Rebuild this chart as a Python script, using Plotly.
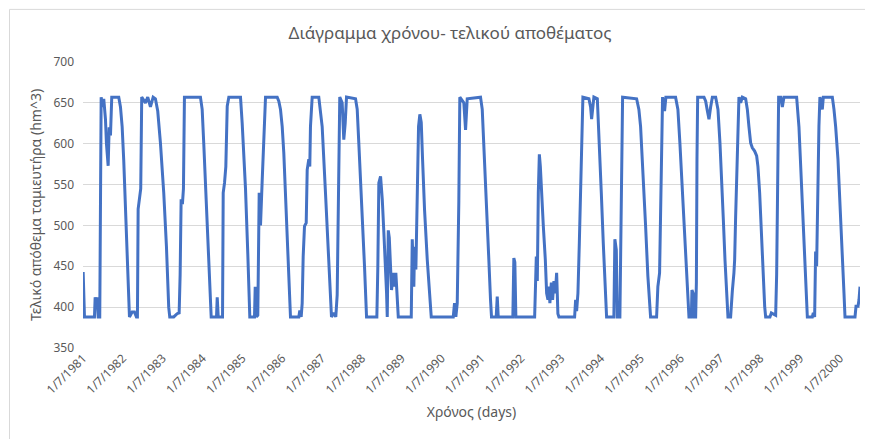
import pandas as pd
import plotly.graph_objects as go

# Time as decimal year and reservoir storage (hm^3)
t_years = [
    1981.500, 1981.533, 1981.784, 1981.801, 1981.834, 1981.852, 1981.877, 1981.917, 1981.952, 1981.992,
    1982.017, 1982.060, 1982.085, 1982.128, 1982.153, 1982.186, 1982.218, 1982.394, 1982.437, 1982.479,
    1982.519, 1982.562, 1982.605, 1982.645, 1982.663, 1982.730, 1982.788, 1982.838, 1982.863, 1982.881,
    1982.914, 1982.946, 1982.971, 1983.064, 1983.122, 1983.190, 1983.258, 1983.315, 1983.373, 1983.441,
    1983.524, 1983.592, 1983.649, 1983.675, 1983.775, 1983.860, 1983.911, 1983.936, 1983.961, 1983.993,
    1984.019, 1984.044, 1984.445, 1984.488, 1984.528, 1984.614, 1984.679, 1984.714, 1984.847, 1984.865,
    1984.890, 1984.998, 1985.015, 1985.048, 1985.081, 1985.116, 1985.156, 1985.450, 1985.492, 1985.575,
    1985.633, 1985.683, 1985.801, 1985.819, 1985.852, 1985.884, 1985.919, 1985.952, 1985.995, 1986.035,
    1986.078, 1986.371, 1986.412, 1986.454, 1986.497, 1986.537, 1986.580, 1986.622, 1986.663, 1986.705,
    1986.914, 1986.939, 1986.974, 1986.999, 1987.024, 1987.057, 1987.100, 1987.125, 1987.165, 1987.190,
    1987.207, 1987.250, 1987.416, 1987.501, 1987.584, 1987.667, 1987.710, 1987.735, 1987.793, 1987.843,
    1987.878, 1987.903, 1987.928, 1987.943, 1988.003, 1988.044, 1988.079, 1988.112, 1988.338, 1988.380,
    1988.420, 1988.506, 1988.563, 1988.614, 1988.872, 1988.897, 1988.922, 1988.965, 1989.008, 1989.048,
    1989.091, 1989.116, 1989.133, 1989.159, 1989.184, 1989.216, 1989.241, 1989.284, 1989.317, 1989.349,
    1989.384, 1989.410, 1989.736, 1989.761, 1989.801, 1989.819, 1989.852, 1989.887, 1989.919, 1989.952,
    1989.987, 1990.020, 1990.070, 1990.138, 1990.203, 1990.238, 1990.791, 1990.823, 1990.856, 1990.891,
    1990.931, 1990.956, 1991.057, 1991.100, 1991.142, 1991.476, 1991.519, 1991.559, 1991.602, 1991.644,
    1991.685, 1991.727, 1991.752, 1991.870, 1991.896, 1991.921, 1992.287, 1992.312, 1992.337, 1992.363,
    1992.833, 1992.875, 1992.900, 1992.925, 1992.951, 1992.976, 1993.001, 1993.051, 1993.101, 1993.134,
    1993.167, 1993.191, 1993.216, 1993.252, 1993.284, 1993.317, 1993.352, 1993.385, 1993.417, 1993.443,
    1993.837, 1993.862, 1993.887, 1993.920, 1993.955, 1993.987, 1994.020, 1994.045, 1994.196, 1994.238,
    1994.264, 1994.296, 1994.321, 1994.407, 1994.447, 1994.507, 1994.557, 1994.615, 1994.640, 1994.823,
    1994.848, 1994.884, 1994.909, 1994.974, 1995.017, 1995.042, 1995.394, 1995.451, 1995.494, 1995.562,
    1995.620, 1995.677, 1995.727, 1995.745, 1995.896, 1995.928, 1995.971, 1995.996, 1996.021, 1996.046,
    1996.096, 1996.129, 1996.372, 1996.430, 1996.480, 1996.523, 1996.566, 1996.606, 1996.649, 1996.682,
    1996.707, 1996.767, 1996.782, 1996.825, 1996.842, 1996.875, 1996.893, 1996.908, 1996.925, 1997.084,
    1997.126, 1997.169, 1997.209, 1997.251, 1997.294, 1997.377, 1997.435, 1997.485, 1997.528, 1997.570,
    1997.611, 1997.653, 1997.686, 1997.753, 1997.771, 1997.796, 1997.836, 1997.854, 1997.879, 1997.922,
    1997.962, 1998.005, 1998.047, 1998.130, 1998.173, 1998.213, 1998.256, 1998.298, 1998.356, 1998.407,
    1998.439, 1998.482, 1998.525, 1998.565, 1998.608, 1998.633, 1998.741, 1998.776, 1998.884, 1998.909,
    1998.934, 1998.959, 1999.010, 1999.052, 1999.092, 1999.411, 1999.469, 1999.511, 1999.562, 1999.612,
    1999.655, 1999.680, 1999.805, 1999.830, 1999.863, 1999.888, 1999.913, 1999.938, 1999.971, 1999.996,
    2000.031, 2000.056, 2000.081, 2000.307, 2000.348, 2000.390, 2000.448, 2000.498, 2000.548, 2000.599,
    2000.624, 2000.875, 2000.900, 2000.950, 2000.975, 2001.000,
]

storage = [
    443, 388, 388, 412, 405, 412, 388, 388, 657, 645,
    655, 630, 600, 573, 620, 610, 657, 657, 645, 621,
    580, 519, 450, 392, 388, 394, 394, 388, 388, 520,
    530, 545, 657, 650, 657, 645, 657, 655, 640, 601,
    540, 474, 400, 388, 388, 392, 393, 440, 532, 526,
    545, 657, 657, 642, 600, 510, 430, 388, 388, 412,
    388, 388, 540, 552, 572, 646, 657, 657, 625, 545,
    465, 388, 388, 425, 388, 390, 540, 500, 556, 600,
    657, 657, 652, 642, 621, 589, 540, 491, 438, 388,
    388, 396, 388, 405, 462, 499, 503, 568, 581, 572,
    621, 657, 657, 621, 540, 458, 400, 388, 393, 388,
    415, 499, 621, 657, 650, 605, 625, 657, 655, 642,
    601, 519, 450, 388, 388, 450, 552, 560, 532, 491,
    450, 417, 388, 494, 485, 458, 421, 442, 425, 442,
    417, 388, 388, 483, 425, 474, 446, 540, 621, 636,
    626, 581, 519, 458, 409, 388, 388, 405, 388, 405,
    530, 657, 650, 617, 655, 657, 642, 601, 560, 507,
    458, 409, 388, 388, 413, 388, 388, 460, 455, 388,
    388, 462, 432, 540, 587, 572, 540, 499, 458, 417,
    409, 425, 405, 430, 409, 432, 417, 442, 392, 388,
    388, 409, 395, 417, 478, 540, 621, 657, 655, 645,
    630, 650, 657, 655, 601, 540, 478, 417, 388, 388,
    483, 470, 388, 388, 581, 657, 655, 642, 621, 560,
    499, 438, 393, 388, 388, 425, 442, 499, 581, 657,
    640, 657, 657, 642, 601, 560, 519, 474, 438, 401,
    388, 388, 421, 415, 388, 388, 430, 581, 657, 657,
    652, 640, 630, 645, 657, 657, 642, 601, 560, 507,
    458, 409, 388, 388, 412, 420, 442, 458, 511, 581,
    657, 650, 657, 655, 642, 621, 601, 595, 591, 585,
    572, 540, 491, 442, 401, 388, 388, 393, 390, 440,
    581, 657, 657, 645, 657, 657, 621, 572, 515, 458,
    409, 388, 388, 393, 388, 468, 450, 540, 621, 657,
    650, 642, 657, 657, 642, 621, 581, 519, 468, 417,
    388, 388, 401, 401, 409, 425,
]

tick_years = list(range(1981, 2001))
tick_labels = [f"1/7/{y}" for y in tick_years]


def to_date(t):
    y = int(t)
    start = pd.Timestamp(year=y, month=1, day=1)
    end = pd.Timestamp(year=y + 1, month=1, day=1)
    return start + (end - start) * (t - y)


dates = [to_date(t) for t in t_years]
tick_vals = [pd.Timestamp(year=y, month=7, day=1) for y in tick_years]

FONT = "Noto Sans"
GRAY = "#595959"

fig = go.Figure()
fig.add_trace(go.Scatter(
    x=dates, y=storage, mode="lines",
    line=dict(color="#4472C4", width=3),
    hoverinfo="skip", showlegend=False,
))

# page body has an 8px default margin; figure sized to fit the 873x439 window
fig.update_layout(
    width=865, height=431,
    margin=dict(l=75, r=13, t=54, b=91),
    paper_bgcolor="white", plot_bgcolor="white",
    font=dict(family=FONT, color=GRAY),
    title=dict(text="Διάγραμμα χρόνου- τελικού αποθέματος",
               font=dict(family=FONT, size=17, color=GRAY),
               x=0.511, xref="container", xanchor="center",
               y=0.942, yref="container", yanchor="middle"),
    xaxis=dict(
        type="date", range=[tick_vals[0], dates[-1]], automargin=False,
        tickmode="array", tickvals=tick_vals, ticktext=tick_labels,
        tickangle=-45, tickfont=dict(size=12, color=GRAY, family=FONT),
        showgrid=False, zeroline=False, showline=False, ticks="",
        title=dict(text="Χρόνος (days)", font=dict(size=14, color=GRAY, family=FONT), standoff=10),
    ),
    yaxis=dict(
        range=[350, 700], tickmode="linear", tick0=350, dtick=50, automargin=False,
        showgrid=True, gridcolor="#D9D9D9", gridwidth=1,
        zeroline=False, showline=False, ticks="",
        tickfont=dict(size=12, color=GRAY, family=FONT),
        ticklabelstandoff=8,
        title=dict(text="Τελικό απόθεμα ταμιευτήρα (hm^3)", font=dict(size=14, color=GRAY, family=FONT), standoff=8),
    ),
    shapes=[dict(type="rect", xref="paper", yref="paper",
                 x0=-0.0946, x1=1.2, y0=-0.6, y1=1.184,
                 line=dict(color="#D9D9D9", width=1), fillcolor="rgba(0,0,0,0)", layer="below")],
)

fig.write_html("out.html")
